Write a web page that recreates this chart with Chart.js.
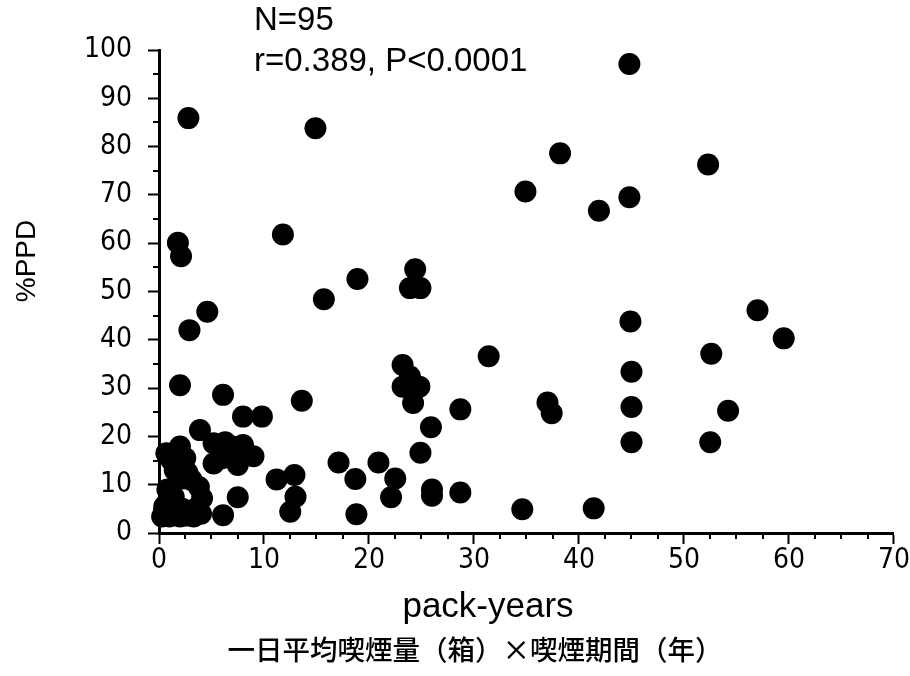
<!DOCTYPE html>
<html>
<head>
<meta charset="utf-8">
<script src="https://cdn.jsdelivr.net/npm/chart.js@4/dist/chart.umd.min.js"></script>
<style>
html,body{margin:0;padding:0;background:#fff;}
#c{display:block;}
</style>
</head>
<body>
<canvas id="c" width="910" height="676"></canvas>
<script>
// pack-years (x) and %PPD (y) for each subject
const packYears = [
  2.8, 14.9, 34.9, 1.8, 2.1, 11.8, 18.9, 24.4, 23.9, 24.9,
  15.7, 4.6, 2.9, 31.4, 2.0, 6.1, 13.6, 23.2, 23.9, 23.2,
  24.8, 24.2, 28.7, 25.9, 24.9, 17.1, 20.9, 18.7, 22.5, 22.1,
  26.0, 26.0, 28.7, 18.8, 34.6, 11.2, 12.9, 13.0, 12.5, 8.0,
  9.8, 3.9, 5.2, 7.0, 8.0, 9.0, 5.2, 7.5, 2.0, 0.7,
  2.0, 2.3, 3.1, 4.1, 1.4, 7.5, 0.3, 2.0, 3.3, 6.1,
  1.0, 44.8, 38.2, 52.3, 44.8, 41.9, 44.9, 57.0, 59.5, 52.6,
  45.0, 37.0, 37.4, 45.0, 54.2, 45.0, 52.5, 41.4,
  1.0, 2.6, 4.0, 1.5, 3.5, 0.8, 1.5, 2.5, 1.2, 2.7,
  3.8, 6.5, 6.0, 7.8, 6.3, 0.5, 2.2
];
const ppd = [
  85.9, 83.8, 70.7, 60.1, 57.3, 61.8, 52.6, 54.6, 50.7, 50.7,
  48.4, 45.8, 42.0, 36.6, 30.6, 28.6, 27.4, 34.8, 32.4, 30.3,
  30.3, 26.9, 25.6, 21.9, 16.6, 14.6, 14.6, 11.2, 11.3, 7.4,
  9.0, 7.7, 8.4, 3.9, 4.9, 11.1, 12.0, 7.5, 4.4, 24.1,
  24.1, 21.3, 18.6, 17.9, 18.2, 15.9, 14.4, 14.1, 17.9, 16.5,
  14.4, 11.3, 11.0, 7.2, 7.5, 7.4, 3.4, 3.4, 3.4, 3.7,
  4.8, 97.1, 78.6, 76.3, 69.5, 66.7, 43.8, 46.1, 40.3, 37.1,
  33.4, 27.0, 24.8, 26.1, 25.3, 18.8, 18.8, 5.1,
  3.4, 3.6, 4.0, 5.5, 5.0, 9.0, 13.0, 15.5, 15.0, 12.5,
  9.5, 17.5, 15.5, 16.5, 18.8, 5.5, 5.0
];
const xTickValues = [0, 10, 20, 30, 40, 50, 60, 70];
const xMinorValues = [2.5, 5, 7.5, 12.5, 15, 17.5, 22.5, 25, 27.5, 32.5, 35, 37.5, 42.5, 45, 47.5, 52.5, 55, 57.5, 62.5, 65, 67.5];
const yTickValues = [0, 10, 20, 30, 40, 50, 60, 70, 80, 90, 100];
const yMinorValues = [5, 15, 25, 35, 45, 55, 65, 75, 85, 95];
const annotationLines = ['N=95', 'r=0.389, P<0.0001'];
const yTitle = '%PPD';
const xTitle = 'pack-years';
const xSubtitle = '一日平均喫煙量（箱）×喫煙期間（年）';

const points = packYears.map((x, i) => ({x: x, y: ppd[i]}));
const tickFont = '"Liberation Sans Narrow", "DejaVu Sans Condensed", "Liberation Sans", sans-serif';

const textPlugin = {
  id: 'extras',
  afterDraw(chart) {
    const ctx = chart.ctx;
    const xs = chart.scales.x, ys = chart.scales.y;
    ctx.save();
    ctx.strokeStyle = '#000';
    ctx.lineWidth = 2;
    // minor ticks
    yMinorValues.forEach(v => {
      const py = Math.round(ys.getPixelForValue(v));
      ctx.beginPath();
      ctx.moveTo(xs.left - 6, py);
      ctx.lineTo(xs.left, py);
      ctx.stroke();
    });
    xMinorValues.forEach(v => {
      const px = Math.round(xs.getPixelForValue(v));
      ctx.beginPath();
      ctx.moveTo(px, ys.bottom);
      ctx.lineTo(px, ys.bottom + 6);
      ctx.stroke();
    });
    ctx.fillStyle = '#000';
    // annotations
    ctx.font = '33px "Liberation Sans", Arial, sans-serif';
    ctx.textAlign = 'left';
    ctx.textBaseline = 'middle';
    ctx.fillText(annotationLines[0], 254, 21);
    ctx.fillText(annotationLines[1], 254, 62);
    // y title
    ctx.save();
    ctx.translate(27, 261);
    ctx.rotate(-Math.PI / 2);
    ctx.textAlign = 'center';
    ctx.font = '28px "Liberation Sans", Arial, sans-serif';
    ctx.fillText(yTitle, 0, 0);
    ctx.restore();
    // x titles
    ctx.textAlign = 'center';
    ctx.font = '35px "Liberation Sans", Arial, sans-serif';
    ctx.fillText(xTitle, 488, 607);
    ctx.font = '500 27.5px "Noto Sans CJK JP", sans-serif';
    ctx.fillText(xSubtitle, 475, 650);
    ctx.restore();
  }
};

new Chart(document.getElementById('c'), {
  type: 'scatter',
  data: {
    datasets: [{
      data: points,
      backgroundColor: '#000',
      borderColor: '#000',
      pointRadius: 11,
      pointHoverRadius: 11,
      borderWidth: 0,
      clip: false
    }]
  },
  options: {
    responsive: false,
    devicePixelRatio: 1,
    animation: false,
    events: [],
    layout: {padding: {left: 0, top: 50, right: 15, bottom: 0}},
    plugins: {legend: {display: false}, title: {display: false}, tooltip: {enabled: false}},
    scales: {
      x: {
        type: 'linear', min: 0, max: 70,
        afterBuildTicks: s => { s.ticks = xTickValues.map(v => ({value: v})); },
        afterFit: s => { s.height = 143; },
        border: {display: true, color: '#000', width: 3},
        grid: {drawOnChartArea: false, drawTicks: true, tickLength: 11, tickColor: '#000', tickWidth: 2},
        ticks: {color: '#000', padding: 0, maxRotation: 0, autoSkip: false,
                font: {family: tickFont, size: 28}}
      },
      y: {
        type: 'linear', min: 0, max: 100,
        afterBuildTicks: s => { s.ticks = yTickValues.map(v => ({value: v})); },
        afterFit: s => { s.width = 159; },
        border: {display: true, color: '#000', width: 3},
        grid: {drawOnChartArea: false, drawTicks: true, tickLength: 11, tickColor: '#000', tickWidth: 2},
        ticks: {color: '#000', padding: 16, autoSkip: false,
                font: {family: tickFont, size: 28}}
      }
    }
  },
  plugins: [textPlugin]
});
</script>
</body>
</html>
